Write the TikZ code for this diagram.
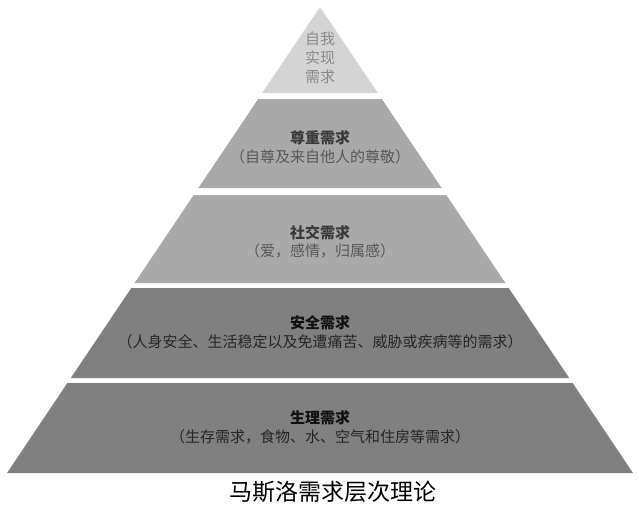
\documentclass[tikz,border=0pt]{standalone}
\usepackage{fontspec}
\setmainfont{Noto Sans CJK SC}
\begin{document}
\begin{tikzpicture}[x=1pt,y=-1pt,
  ttl/.style={font=\fontsize{15}{18}\selectfont\bfseries,inner sep=0pt},
  sub/.style={font=\fontsize{15}{18}\selectfont,inner sep=0pt},
  captext/.style={font=\fontsize{23}{26}\selectfont,inner sep=0pt,text=black}]
\definecolor{lone}{HTML}{D4D4D4}
\definecolor{lmid}{HTML}{A9A9A9}
\definecolor{ldark}{HTML}{808080}
\definecolor{tlight}{HTML}{8A8A8A}
\definecolor{tmid}{HTML}{3A3A3A}
\definecolor{smid}{HTML}{585858}
\definecolor{tdark}{HTML}{111111}
\definecolor{sdark}{HTML}{262626}
\useasboundingbox[fill=white] (0,0) rectangle (639,512);
% layers
\fill[lone]  (320,7) -- (377.8,93) -- (262.2,93) -- cycle;
\fill[lmid]  (258.2,99) -- (381.8,99) -- (441.6,188) -- (198.4,188) -- cycle;
\fill[lmid]  (193.7,195) -- (446.3,195) -- (505.4,283) -- (134.6,283) -- cycle;
\fill[ldark] (131.3,288) -- (508.7,288) -- (569.2,378) -- (70.8,378) -- cycle;
\fill[ldark] (67.4,383) -- (572.6,383) -- (633,473) -- (7,473) -- cycle;
% texts
\node[sub,text=tlight,align=center,font=\fontsize{15}{19}\selectfont] (t1) at (320,58) {自我\\实现\\需求};
\node[ttl,text=tmid] (t2) at (320,138) {尊重需求};
\node[sub,text=smid] (s2) at (320,157) {（自尊及来自他人的尊敬）};
\node[ttl,text=tmid] (t3) at (320,233) {社交需求};
\node[sub,text=smid] (s3) at (320,251) {（爱，感情，归属感）};
\node[ttl,text=tdark] (t4) at (320,323) {安全需求};
\node[sub,text=sdark] (s4) at (320,342) {（人身安全、生活稳定以及免遭痛苦、威胁或疾病等的需求）};
\node[ttl,text=tdark] (t5) at (320,418) {生理需求};
\node[sub,text=sdark] (s5) at (320,437) {（生存需求，食物、水、空气和住房等需求）};
\node[captext] (caption) at (333,492) {马斯洛需求层次理论};
\end{tikzpicture}
\end{document}
